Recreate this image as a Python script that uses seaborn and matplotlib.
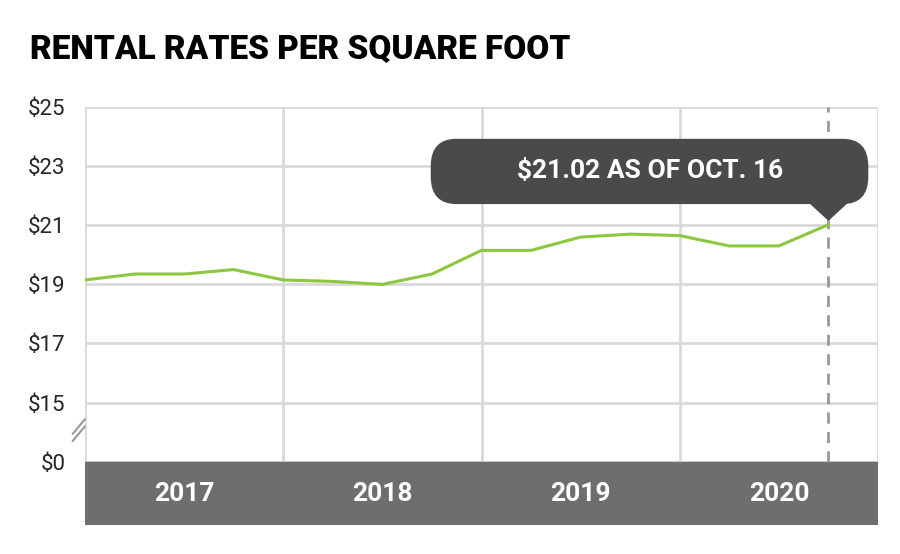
import numpy as np
import pandas as pd
import matplotlib.pyplot as plt
import seaborn as sns
from matplotlib.patches import FancyBboxPatch

# Quarterly rental rates ($ per sq ft), Q1 2017 .. Oct 2020
quarters = list(range(16))
rates = [19.15, 19.35, 19.35, 19.5, 19.15, 19.1, 19.0, 19.35,
         20.15, 20.15, 20.6, 20.7, 20.65, 20.3, 20.3, 21.02]
years = ["2017", "2018", "2019", "2020"]
tick_values = [0, 15, 17, 19, 21, 23, 25]
tick_labels = ["$0", "$15", "$17", "$19", "$21", "$23", "$25"]


def to_axis(v):
    # broken axis: $0 sits one step below $15
    v = np.asarray(v, dtype=float)
    return np.where(v <= 0, 0.0, (v - 13) / 2)


sns.set_theme(style="white")
plt.rcParams['font.family'] = ['Roboto', 'DejaVu Sans']

fig = plt.figure(figsize=(9, 5.54), dpi=100)
ax = fig.add_axes([85 / 900, 1 - 525 / 554, (878 - 85) / 900, (525 - 107) / 554])

grid_c = "#d9d9d9"
for t in tick_values:
    ax.axhline(to_axis(t), color=grid_c, lw=2, zorder=0)
for x in [0, 4, 8, 12, 16]:
    ax.axvline(x, color=grid_c, lw=2, zorder=0)

df = pd.DataFrame({"q": quarters, "y": to_axis(rates)})
sns.lineplot(data=df, x="q", y="y", ax=ax, color="#8dc63f", lw=2.2, zorder=3)

ax.axvline(15, ymin=1.07 / 7.07, color="#999999", lw=2, ls=(0, (4, 3)), zorder=2)

# year band
ax.axhspan(-1.07, 0, color="#6d6e70", zorder=1)
for i, yr in enumerate(years):
    ax.text(4 * i + 2, -0.55, yr, color="white", fontsize=19, fontweight="bold",
            ha="center", va="center", zorder=4)

ax.set_xlim(0, 16)
ax.set_ylim(-1.07, 6)
ax.set_yticks(to_axis(tick_values))
ax.set_yticklabels(tick_labels, fontsize=16)
ax.tick_params(axis="y", length=0, pad=14)
ax.set_xticks([])
ax.set_xlabel("")
ax.set_ylabel("")
for s in ax.spines.values():
    s.set_visible(False)

# axis break marks
for dy in [0, 0.12]:
    ax.plot([-0.25, 0.0], [0.35 + dy, 0.6 + dy], color="#999999", lw=1.5, clip_on=False)

# annotation callout
box = FancyBboxPatch((6.99, 4.37), 8.8, 1.08, boxstyle="round,pad=0,rounding_size=0.5",
                     transform=ax.transData, color="#4a4a4c", zorder=5, mutation_aspect=0.9)
ax.add_patch(box)
ax.fill([14.6, 15.4, 15.0], [4.4, 4.4, to_axis(21.02) + 0.08], color="#4a4a4c", zorder=5)
ax.text(11.4, 4.91, "$21.02 AS OF OCT. 16", color="white", fontsize=19,
        fontweight="bold", ha="center", va="center", zorder=6)

fig.text(30 / 900, 1 - 50 / 554, "RENTAL RATES PER SQUARE FOOT", fontsize=24,
         fontweight="black", color="black", ha="left", va="center")

fig.savefig("out.png", dpi=100)
